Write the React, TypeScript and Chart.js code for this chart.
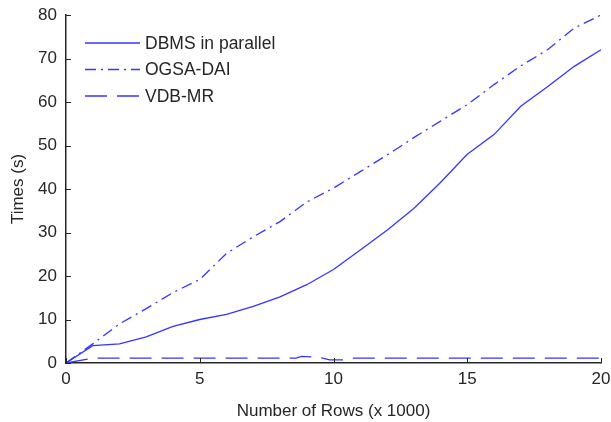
import React, { useEffect, useRef } from "react";
import { Chart, registerables } from "chart.js";

Chart.register(...registerables);

const rows = [0, 1, 2, 3, 4, 5, 6, 7, 8, 9, 10, 11, 12, 13, 14, 15, 16, 17, 18, 19, 20];
const dbmsTimes = [0, 4, 4.4, 6, 8.4, 10, 11.2, 13, 15.2, 18, 21.5, 26, 30.5, 35.5, 41.5, 48, 52.5, 59, 63.5, 68.2, 72];
const ogsaTimes = [0, 4.4, 9, 12.5, 16.2, 19.2, 25.2, 29, 32.5, 37, 40.2, 44, 47.8, 51.8, 55.6, 59.4, 64, 68.3, 72, 77, 80];
const vdbRows = [0, 1, 2, 3, 4, 5, 6, 7, 8, 8.6, 8.8, 9.3, 9.6, 9.85, 10.4, 10.7, 11, 12, 13, 14, 15, 16, 17, 18, 19, 20];
const vdbTimes = [0, 1.1, 1.1, 1.1, 1.1, 1.1, 1.1, 1.1, 1.1, 1.1, 1.5, 1.4, 1.1, 0.7, 0.7, 1.1, 1.1, 1.1, 1.1, 1.1, 1.1, 1.1, 1.1, 1.1, 1.1, 1.1];
const seriesNames = ["DBMS in parallel", "OGSA-DAI", "VDB-MR"];
const xTicks = [0, 5, 10, 15, 20];
const yTicks = [0, 10, 20, 30, 40, 50, 60, 70, 80];

const LINE = "#3535ff";
const INK = "#262626";
const FONT = "'Liberation Sans', Arial, sans-serif";

const pts = (xs: number[], ys: number[]) => xs.map((x, i) => ({ x, y: ys[i] }));

const innerTicks = {
  id: "innerTicks",
  afterDatasetsDraw(chart: any) {
    const { ctx, chartArea, scales } = chart;
    ctx.save();
    ctx.strokeStyle = INK;
    ctx.lineWidth = 1;
    ctx.beginPath();
    xTicks.forEach((v) => {
      const px = Math.round(scales.x.getPixelForValue(v)) + 0.5;
      ctx.moveTo(px, chartArea.bottom);
      ctx.lineTo(px, chartArea.bottom - 5);
    });
    yTicks.forEach((v) => {
      const py = Math.round(scales.y.getPixelForValue(v)) + 0.5;
      ctx.moveTo(chartArea.left, py);
      ctx.lineTo(chartArea.left + 5, py);
    });
    ctx.stroke();
    ctx.restore();
  },
};

const insideLegend = {
  id: "insideLegend",
  afterDraw(chart: any) {
    const { ctx } = chart;
    ctx.save();
    chart.data.datasets.forEach((ds: any, i: number) => {
      const y = 43 + i * 26.5;
      ctx.strokeStyle = ds.borderColor;
      ctx.lineWidth = ds.borderWidth;
      ctx.setLineDash(ds.borderDash || []);
      ctx.beginPath();
      ctx.moveTo(85, y);
      ctx.lineTo(140, y);
      ctx.stroke();
      ctx.setLineDash([]);
      ctx.fillStyle = INK;
      ctx.font = `17.5px ${FONT}`;
      ctx.textBaseline = "middle";
      ctx.textAlign = "left";
      ctx.fillText(ds.label, 145, y + 1);
    });
    ctx.restore();
  },
};

export default function App() {
  const ref = useRef<HTMLCanvasElement | null>(null);
  useEffect(() => {
    if (!ref.current) return;
    const chart = new Chart(ref.current, {
      type: "line",
      data: {
        datasets: [
          {
            label: seriesNames[0],
            data: pts(rows, dbmsTimes),
            borderColor: LINE,
            borderWidth: 1.3,
            pointRadius: 0,
            tension: 0,
          },
          {
            label: seriesNames[1],
            data: pts(rows, ogsaTimes),
            borderColor: LINE,
            borderWidth: 1.3,
            borderDash: [11, 5, 2, 5],
            pointRadius: 0,
            tension: 0,
          },
          {
            label: seriesNames[2],
            data: pts(vdbRows, vdbTimes),
            borderColor: LINE,
            borderWidth: 1.3,
            borderDash: [22, 10],
            pointRadius: 0,
            tension: 0,
          },
        ],
      },
      plugins: [innerTicks, insideLegend],
      options: {
        animation: false,
        responsive: false,
        maintainAspectRatio: false,
        layout: { padding: { top: 15, right: 10, left: 0, bottom: 0 } },
        plugins: {
          legend: { display: false },
          tooltip: { enabled: false },
        },
        scales: {
          x: {
            type: "linear",
            min: 0,
            max: 20,
            afterBuildTicks: (s: any) => {
              s.ticks = xTicks.map((v) => ({ value: v }));
            },
            afterFit: (s: any) => {
              s.height = 59;
              s.paddingLeft = 0;
              s.paddingRight = 0;
            },
            grid: { display: false, drawTicks: false },
            border: { display: true, color: INK, width: 1.5 },
            ticks: {
              color: INK,
              font: { family: FONT, size: 17 },
              padding: 6,
              maxRotation: 0,
            },
            title: {
              display: true,
              text: "Number of Rows (x 1000)",
              color: INK,
              font: { family: FONT, size: 17 },
              padding: { top: 4, bottom: 0 },
            },
          },
          y: {
            type: "linear",
            min: 0,
            max: 80,
            afterBuildTicks: (s: any) => {
              s.ticks = yTicks.map((v) => ({ value: v }));
            },
            afterFit: (s: any) => {
              s.width = 66;
              s.paddingTop = 0;
              s.paddingBottom = 0;
            },
            grid: { display: false, drawTicks: false },
            border: { display: true, color: INK, width: 1.5 },
            ticks: {
              color: INK,
              font: { family: FONT, size: 17 },
              padding: 9,
            },
            title: {
              display: true,
              text: "Times (s)",
              color: INK,
              font: { family: FONT, size: 17 },
              padding: { top: 8, bottom: 4 },
            },
          },
        },
      },
    });
    return () => chart.destroy();
  }, []);
  return (
    <div style={{ position: "fixed", left: 0, top: 0, width: 611, height: 422, background: "#fff" }}>
      <canvas ref={ref} width={611} height={422} style={{ width: 611, height: 422 }} />
    </div>
  );
}
